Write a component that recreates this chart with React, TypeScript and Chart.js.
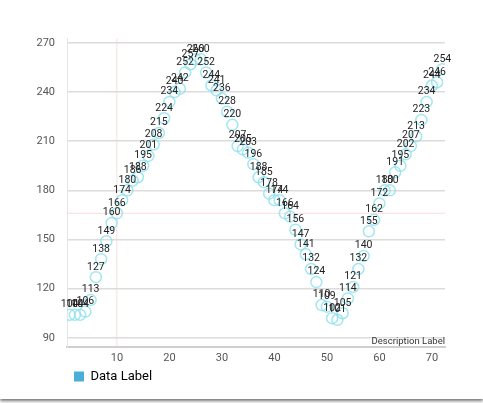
import React, { useEffect, useRef } from "react";
import { Chart, registerables } from "chart.js";

Chart.register(...registerables);

const xValues = [
  1, 2, 3, 4, 5, 6, 7, 8, 9, 10, 11, 12, 13, 14, 15, 16, 17, 18, 19, 20, 21, 22, 23, 24,
  25, 26, 27, 28, 29, 30, 31, 32, 33, 34, 35, 36, 37, 38, 39, 40, 41, 42, 43, 44, 45, 46, 47, 48,
  49, 50, 51, 52, 53, 54, 55, 56, 57, 58, 59, 60, 61, 62, 63, 64, 65, 66, 67, 68, 69, 70, 71, 72,
];
const yValues = [
  104, 104, 104, 106, 113, 127, 138, 149, 160, 166, 174, 180, 186, 188, 195, 201, 208, 215, 224, 234, 240, 242, 252, 257,
  260, 260, 252, 244, 241, 236, 228, 220, 207, 205, 203, 196, 188, 185, 178, 174, 174, 166, 164, 156, 147, 141, 132, 124,
  110, 109, 102, 101, 105, 114, 121, 132, 140, 155, 162, 172, 180, 180, 191, 195, 202, 207, 213, 223, 234, 244, 246, 254,
];
const yTicks = [90, 120, 150, 180, 210, 240, 270];
const xTicks = [10, 20, 30, 40, 50, 60, 70];
const seriesLabel = "Data Label";
const descriptionText = "Description Label";
const limitY = 166;
const limitX = 10;

const FONT = "Roboto, 'Noto Sans', sans-serif";

const valueLabels = {
  id: "valueLabels",
  afterDatasetsDraw(chart: any) {
    const ctx = chart.ctx;
    const meta = chart.getDatasetMeta(0);
    ctx.save();
    ctx.font = `10.5px ${FONT}`;
    ctx.fillStyle = "#222";
    ctx.textAlign = "center";
    ctx.textBaseline = "bottom";
    meta.data.forEach((pt: any, i: number) => {
      ctx.fillText(String(yValues[i]), pt.x, pt.y - 5);
    });
    ctx.restore();
  },
};

const extras = {
  id: "extras",
  beforeDraw(chart: any) {
    if (chart.legend) {
      const w = chart.legend.right - chart.legend.left;
      chart.legend.left = 74;
      chart.legend.right = 74 + w;
    }
  },
  beforeDatasetsDraw(chart: any) {
    const { ctx, chartArea, scales } = chart;
    ctx.save();
    ctx.strokeStyle = "rgba(240,200,200,0.6)";
    ctx.lineWidth = 1;
    const y = scales.y.getPixelForValue(limitY);
    ctx.beginPath();
    ctx.moveTo(chartArea.left, y);
    ctx.lineTo(chartArea.right, y);
    ctx.stroke();
    const x = scales.x.getPixelForValue(limitX);
    ctx.beginPath();
    ctx.moveTo(x, chartArea.top);
    ctx.lineTo(x, chartArea.bottom);
    ctx.stroke();
    ctx.restore();
  },
  afterDraw(chart: any) {
    const { ctx, chartArea } = chart;
    ctx.save();
    ctx.font = `9.5px ${FONT}`;
    ctx.fillStyle = "#333";
    ctx.textAlign = "right";
    ctx.textBaseline = "middle";
    ctx.fillText(descriptionText, chartArea.right, chartArea.bottom - 5);
    ctx.restore();
  },
};

export default function App() {
  const canvasRef = useRef<HTMLCanvasElement | null>(null);

  useEffect(() => {
    if (!canvasRef.current) return;
    const chart = new Chart(canvasRef.current, {
      type: "scatter",
      data: {
        datasets: [
          {
            label: seriesLabel,
            data: xValues.map((x, i) => ({ x, y: yValues[i] })),
            pointRadius: 5.5,
            pointBorderWidth: 1.5,
            pointBackgroundColor: "rgba(0,0,0,0)",
            pointBorderColor: "rgba(140,225,238,0.8)",
            backgroundColor: "#4aaed8",
            borderColor: "#4aaed8",
          },
        ],
      },
      options: {
        animation: false,
        responsive: false,
        maintainAspectRatio: false,
        layout: { padding: { top: 38, right: 38, left: 0, bottom: 6 } },
        plugins: {
          tooltip: { enabled: false },
          legend: {
            position: "bottom",
            align: "start",
            labels: {
              boxWidth: 10,
              boxHeight: 10,
              padding: 0,
              color: "#333",
              font: { family: FONT, size: 13 },
              generateLabels: () => [
                {
                  text: seriesLabel,
                  fillStyle: "#4aaed8",
                  strokeStyle: "#4aaed8",
                  lineWidth: 0,
                  hidden: false,
                  datasetIndex: 0,
                },
              ],
            },
          },
        },
        scales: {
          x: {
            type: "linear",
            min: 0.5,
            max: 72.5,
            afterBuildTicks: (axis: any) => {
              axis.ticks = xTicks.map((v) => ({ value: v }));
            },
            grid: { display: false, drawTicks: false },
            border: { display: true, color: "#cfcfcf", width: 2 },
            ticks: { color: "#555", font: { family: FONT, size: 11 }, padding: 5 },
          },
          y: {
            type: "linear",
            min: 84.5,
            max: 273,
            afterBuildTicks: (axis: any) => {
              axis.ticks = yTicks.map((v) => ({ value: v }));
            },
            afterFit: (axis: any) => {
              axis.width = 67;
            },
            grid: { color: "#dcdcdc", lineWidth: 1.5, drawTicks: false },
            border: { display: true, color: "#e6e6e6", width: 1 },
            ticks: { color: "#555", font: { family: FONT, size: 11 }, padding: 12 },
          },
        },
      },
      plugins: [extras, valueLabels],
    });
    return () => chart.destroy();
  }, []);

  return (
    <div
      style={{
        position: "fixed",
        top: 0,
        left: 0,
        width: 483,
        height: 399,
        background: "#fff",
        boxShadow: "0 2px 3px rgba(0,0,0,0.55)",
      }}
    >
      <canvas ref={canvasRef} width={483} height={399} />
    </div>
  );
}
